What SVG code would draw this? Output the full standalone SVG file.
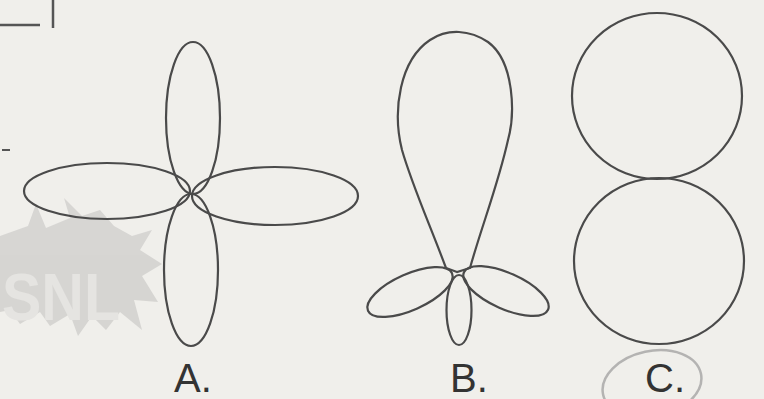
<svg xmlns="http://www.w3.org/2000/svg" width="764" height="399" viewBox="0 0 764 399">
  <style>
    .ln { fill: none; stroke: #4a4a4a; stroke-width: 2.2; }
    .lbl { font-family: "Liberation Sans", Arial, sans-serif; font-size: 40px; fill: #333; }
    .mark { fill: #d4d3d0; }
    .mark-txt { font-family: "Liberation Sans", Arial, sans-serif; font-weight: bold; font-size: 66px; fill: #e4e3e0; }
  </style>
  <rect width="764" height="399" fill="#f0efeb"/>

  <!-- page edge marks -->
  <g id="edge-marks" stroke="#555" stroke-width="2.5" fill="none">
    <line x1="0" y1="25" x2="40" y2="25"/>
    <line x1="53" y1="0" x2="53" y2="28"/>
    <line x1="2" y1="150" x2="10" y2="150" stroke-width="2"/>
  </g>

  <!-- faded stamp -->
  <g id="stamp" opacity="0.9">
    <path class="mark" d="M0,236 L28,226 L36,204 L46,228 L70,218 L64,198 L82,216 L100,210 L114,226 L132,236 L152,230 L140,250 L162,264 L142,276 L158,302 L134,300 L142,330 L120,312 L106,330 L92,316 L78,336 L70,314 L50,326 L40,312 L20,324 L10,310 L0,312 Z"/>
    <text class="mark-txt" x="2" y="320" textLength="118" lengthAdjust="spacingAndGlyphs">SNL</text>
  </g>

  <!-- figure A: four lobes -->
  <g id="figure-a">
    <ellipse class="ln" cx="193" cy="118" rx="27" ry="76"/>
    <ellipse class="ln" cx="191" cy="270" rx="27" ry="76"/>
    <ellipse class="ln" cx="275" cy="196" rx="83" ry="29"/>
    <ellipse class="ln" cx="107" cy="191" rx="83" ry="28"/>
    <text class="lbl" x="174" y="392">A.</text>
  </g>

  <!-- figure B: main lobe with three minor lobes -->
  <g id="figure-b">
    <path class="ln" d="M457,272 L446,268 C430,225 412,185 402,150 C392,110 400,60 430,40 C448,28 470,30 488,42 C515,62 515,115 508,140 C498,185 482,225 470,268 Z"/>
    <ellipse class="ln" cx="410" cy="292" rx="46" ry="18" transform="rotate(-24 410 292)"/>
    <ellipse class="ln" cx="506" cy="291" rx="46" ry="18" transform="rotate(24 506 291)"/>
    <ellipse class="ln" cx="459" cy="310" rx="12.5" ry="35"/>
    <text class="lbl" x="450" y="392">B.</text>
  </g>

  <!-- figure C: two touching circles -->
  <g id="figure-c">
    <ellipse class="ln" cx="657" cy="96" rx="85" ry="83"/>
    <ellipse class="ln" cx="659" cy="261" rx="85" ry="83"/>
    <text class="lbl" x="645" y="392">C.</text>
    <ellipse cx="652" cy="384" rx="50" ry="33" transform="rotate(-12 652 384)" fill="none" stroke="#9a9a9a" stroke-width="2.5" opacity="0.7"/>
  </g>
</svg>
